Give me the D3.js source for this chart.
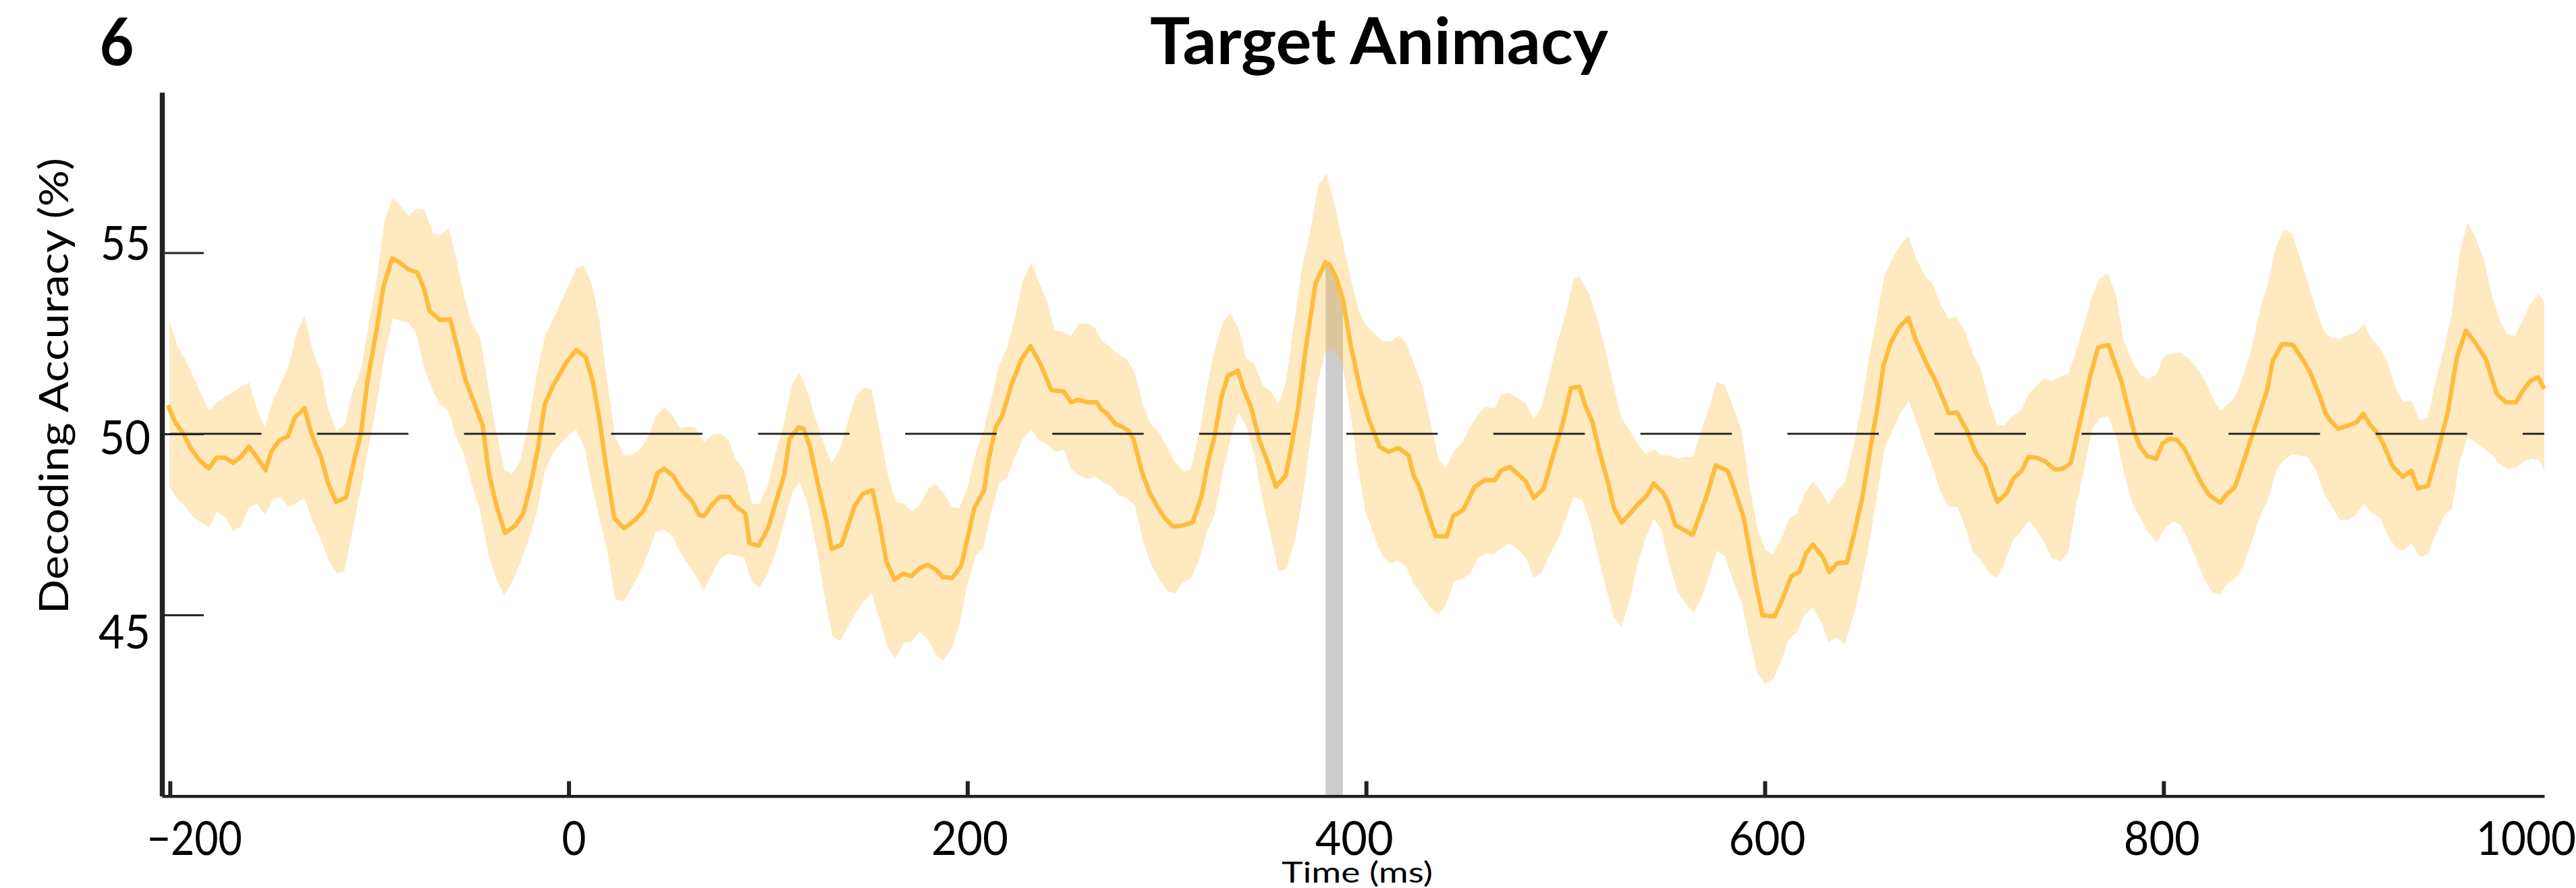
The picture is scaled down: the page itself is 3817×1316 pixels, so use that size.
<!DOCTYPE html>
<html>
<head>
<meta charset="utf-8">
<script src="https://cdn.jsdelivr.net/npm/d3@7"></script>
<style>
  html, body { margin: 0; padding: 0; background: #ffffff; }
  svg { display: block; }
  text { font-family: Lato, "Open Sans", "Noto Sans", sans-serif; fill: #000; }
</style>
</head>
<body>
<svg id="chart" width="3817" height="1316"></svg>
<script>
// ---- data: decoding accuracy (%) over time (ms) ----
const meanSeries = [
  [-201,50.79],[-197.4,50.32],[-193.2,50.0],[-189.9,49.63],[-185.7,49.30],[-180.7,49.04],[-176.6,49.34],[-172.4,49.34],
  [-168.3,49.20],[-164.1,49.38],[-160.4,49.65],[-155.8,49.31],[-152.1,48.99],[-149.1,49.52],[-145.0,49.82],[-140.8,49.93],
  [-137.5,50.44],[-132.5,50.71],[-129.5,50.09],[-126.7,49.68],[-124.2,49.36],[-120.9,48.67],[-116.7,48.12],[-111.7,48.24],
  [-107.6,49.27],[-104.2,50.0],[-100.9,51.46],[-95.9,53.02],[-92.9,54.07],[-88.5,54.85],[-84.3,54.71],[-80.1,54.53],
  [-76.0,54.46],[-72.7,54.03],[-69.7,53.39],[-64.4,53.14],[-59.4,53.16],[-56.0,52.42],[-51.9,51.51],[-46.9,50.78],
  [-43.1,50.23],[-40.2,48.95],[-36.1,47.99],[-31.9,47.26],[-26.9,47.46],[-22.8,47.80],[-19.1,48.58],[-15.3,49.63],
  [-12.0,50.81],[-7.8,51.33],[-1.2,51.97],[3.8,52.31],[8.5,52.12],[12.1,51.46],[15.5,50.37],[18.8,49.09],
  [22.9,47.67],[27.9,47.39],[32.9,47.60],[37.2,47.85],[41.0,48.26],[44.6,48.92],[48.0,49.04],[52.6,48.83],
  [56.6,48.46],[62.1,48.12],[65.4,47.76],[67.9,47.73],[72.1,48.06],[75.9,48.26],[80.4,48.26],[83.7,48.01],
  [88.7,47.80],[90.7,46.98],[95.3,46.91],[100.0,47.39],[103.7,48.08],[108.1,48.86],[110.8,49.86],[115.3,50.18],
  [117.8,50.14],[121.1,49.63],[125.3,48.54],[129.4,47.58],[131.9,46.82],[136.9,46.94],[141.1,47.62],[143.6,48.03],
  [147.7,48.35],[152.4,48.44],[156.0,47.53],[159.4,46.48],[163.5,45.97],[167.7,46.14],[171.8,46.07],[176.0,46.29],
  [180.1,46.39],[184.3,46.25],[187.6,46.05],[192.3,46.02],[196.8,46.34],[200.1,47.12],[203.4,47.94],[208.4,48.44],
  [210.6,49.27],[214.2,50.18],[217.5,50.50],[222.5,51.42],[227.2,52.06],[231.7,52.42],[236.7,51.92],[242.1,51.21],
  [248.3,51.17],[252.1,50.87],[255.8,50.94],[259.9,50.87],[264.9,50.87],[267.4,50.66],[270.0,50.57],[274.2,50.27],
  [277.5,50.20],[280.8,50.09],[283.3,49.86],[287.5,48.95],[291.6,48.35],[294.9,48.03],[299.1,47.67],[303.2,47.44],
  [307.4,47.46],[312.9,47.55],[317.4,48.26],[320.7,49.22],[324.0,49.93],[327.4,51.01],[330.7,51.60],[335.7,51.74],
  [338.5,51.24],[342.3,50.73],[346.5,49.82],[350.3,49.27],[354.8,48.54],[359.8,48.86],[363.1,49.82],[366.1,50.78],
  [369.8,52.38],[374.7,54.16],[379.7,54.74],[381.7,54.67],[384.7,54.35],[388.4,53.71],[392.2,52.47],[397.2,51.19],
  [401.3,50.41],[406.7,49.65],[411.3,49.50],[416.3,49.61],[421.3,49.41],[423.8,48.86],[427.1,48.49],[430.4,47.90],
  [434.9,47.18],[440.4,47.16],[443.7,47.73],[448.7,47.90],[454.5,48.54],[459.5,48.72],[464.5,48.72],[467.8,48.99],
  [472.0,49.09],[476.1,48.90],[480.3,48.67],[484.1,48.23],[489.1,48.49],[493.6,49.36],[498.6,50.27],[502.7,51.26],
  [506.9,51.30],[510.2,50.75],[513.6,50.32],[516.9,49.54],[521.0,48.72],[524.4,47.94],[528.2,47.55],[531.8,47.76],
  [536.0,48.03],[541.0,48.31],[544.3,48.63],[549.3,48.35],[551.8,48.06],[555.1,47.48],[563.8,47.21],[566.8,47.67],
  [571.0,48.31],[575.4,49.13],[581.4,48.98],[585.0,48.43],[589.5,47.67],[592.5,46.75],[595.0,46.02],[598.8,44.99],
  [602.0,44.97],[605.0,44.97],[609.1,45.47],[613.3,46.07],[617.5,46.20],[620.8,46.71],[624.1,46.94],[629.1,46.60],
  [632.4,46.18],[636.2,46.42],[641.2,46.45],[644.9,47.26],[649.0,48.26],[652.9,49.59],[656.5,50.73],[659.5,51.88],
  [663.2,52.52],[667.3,52.93],[672.0,53.20],[675.6,52.61],[681.1,51.94],[685.6,51.46],[689.4,50.96],[692.3,50.57],
  [696.4,50.59],[701.4,50.09],[705.6,49.50],[710.6,49.09],[714.7,48.40],[716.7,48.12],[721.4,48.37],[724.7,48.76],
  [728.8,48.98],[732.2,49.36],[736.3,49.34],[740.5,49.25],[745.6,49.01],[749.7,49.04],[753.5,49.19],[756.4,49.91],
  [760.5,50.91],[763.5,51.65],[767.2,52.38],[769.7,52.42],[772.5,52.45],[775.5,51.97],[778.8,51.46],[782.1,50.73],
  [785.1,50.09],[787.9,49.68],[791.8,49.38],[796.3,49.31],[799.6,49.74],[802.9,49.86],[806.7,49.84],[810.4,49.59],
  [814.6,49.13],[818.7,48.67],[822.9,48.31],[828.4,48.10],[832.0,48.35],[835.7,48.52],[838.7,48.99],[842.0,49.54],
  [845.3,50.09],[848.3,50.59],[852.0,51.21],[854.9,52.03],[859.4,52.47],[862.3,52.47],[864.9,52.45],[870.3,52.01],
  [873.6,51.69],[878.6,51.01],[881.1,50.59],[883.5,50.37],[887.7,50.14],[892.7,50.23],[896.9,50.32],[900.2,50.55],
  [903.5,50.26],[906.8,50.05],[910.2,49.73],[915.1,49.09],[920.1,48.81],[924.3,48.98],[927.6,48.49],[932.6,48.56],
  [936.8,49.36],[942.6,50.59],[947.1,52.10],[951.7,52.85],[956.7,52.49],[961.7,52.06],[967.2,51.10],[971.7,50.87],
  [976.7,50.87],[980.0,51.17],[984.1,51.46],[988.0,51.56],[991.0,51.24]
];

const upperSeries = [
  [-200.3,53.09],[-196.0,52.38],[-192.4,52.06],[-188.2,51.56],[-184.0,51.05],[-180.2,50.64],[-176.6,50.87],[-172.4,51.02],
  [-168.3,51.14],[-164.4,51.30],[-160.4,51.42],[-156.6,50.73],[-152.5,50.18],[-148.3,50.91],[-144.1,51.42],[-140.3,51.90],
  [-136.2,52.84],[-132.5,53.25],[-128.4,52.29],[-124.2,51.69],[-120.9,50.73],[-116.4,50.07],[-112.2,50.26],[-108.4,51.17],
  [-104.2,51.78],[-100.1,53.06],[-95.9,54.39],[-92.3,55.90],[-88.1,56.51],[-84.3,56.29],[-80.1,56.02],[-76.3,56.22],
  [-72.3,56.17],[-68.0,55.53],[-64.4,55.49],[-60.2,55.67],[-56.4,54.85],[-52.4,53.77],[-48.6,53.06],[-44.4,52.63],
  [-40.2,51.24],[-36.4,50.09],[-32.3,49.0],[-28.3,48.90],[-24.5,49.22],[-20.3,50.23],[-16.1,51.60],[-12.0,52.67],
  [-7.8,53.16],[-3.7,53.66],[-0.3,54.07],[3.8,54.55],[7.5,54.64],[11.6,54.14],[15.5,53.11],[19.3,51.46],
  [23.4,49.91],[27.6,49.41],[31.7,49.41],[36.3,49.59],[40.5,50.0],[43.8,50.50],[48.0,50.73],[52.1,50.50],
  [55.9,50.16],[59.6,50.20],[63.4,50.18],[67.9,49.77],[72.1,49.97],[75.9,50.0],[79.9,49.86],[83.7,49.31],
  [87.9,49.0],[92.0,48.06],[95.8,48.06],[99.8,48.58],[103.7,49.45],[107.8,50.23],[112.0,51.35],[115.8,51.69],
  [119.8,51.17],[124.1,50.37],[127.8,49.77],[131.9,49.18],[136.1,49.59],[140.2,50.37],[144.1,51.02],[148.0,51.28],
  [151.9,51.23],[156.0,50.09],[160.2,48.83],[164.3,48.10],[168.0,48.08],[172.2,47.85],[176.0,48.03],[180.1,48.46],
  [184.0,48.61],[188.0,48.37],[192.3,47.97],[195.9,47.94],[200.1,48.52],[204.2,49.45],[208.4,50.14],[212.6,51.10],
  [215.9,51.88],[220.0,52.38],[224.2,53.29],[227.8,54.23],[232.0,54.71],[235.8,54.21],[240.0,53.66],[243.8,52.85],
  [247.8,52.82],[252.0,52.70],[255.8,53.04],[259.6,53.04],[263.8,52.95],[267.7,52.56],[270.0,52.47],[275.8,52.18],
  [280.0,52.06],[284.1,51.67],[288.0,50.82],[291.9,50.27],[296.6,50.0],[300.4,49.59],[304.1,49.22],[308.2,48.98],
  [312.1,49.0],[316.6,50.09],[320.2,51.28],[324.0,52.29],[328.2,53.09],[332.0,53.34],[336.2,52.88],[339.8,52.09],
  [344.0,51.92],[348.1,51.35],[352.3,51.17],[356.0,50.81],[359.8,51.42],[363.9,53.06],[368.1,54.67],[371.7,55.49],
  [376.1,56.91],[377.7,56.97],[380.1,57.18],[383.9,56.40],[387.2,55.58],[391.4,54.48],[396.4,53.39],[399.7,53.02],
  [403.8,52.79],[408.3,52.56],[412.1,52.54],[416.3,52.72],[420.1,52.52],[424.6,51.83],[427.9,51.37],[432.1,50.37],
  [436.3,49.31],[439.9,49.04],[444.2,49.54],[448.2,49.74],[451.7,50.14],[455.9,50.53],[460.0,50.75],[464.2,50.69],
  [467.8,51.08],[472.0,51.14],[476.1,50.99],[480.3,50.81],[484.1,50.39],[488.1,50.78],[491.9,51.60],[496.1,52.56],
  [500.3,53.34],[504.1,54.27],[506.9,54.35],[511.9,53.86],[516.0,53.16],[520.2,52.29],[523.9,51.37],[528.0,50.44],
  [532.2,50.09],[536.5,49.71],[540.2,49.45],[544.3,49.59],[548.1,49.41],[552.3,49.40],[556.4,49.31],[560.1,49.36],
  [563.9,49.36],[568.1,50.09],[572.2,50.73],[575.9,51.44],[580.1,51.34],[584.2,50.73],[588.4,50.09],[592.0,48.67],
  [596.2,47.39],[600.3,46.80],[604.2,46.66],[608.3,47.12],[612.1,47.64],[616.1,47.80],[620.0,48.35],[624.1,48.67],
  [628.3,48.40],[632.1,48.06],[636.2,48.44],[640.2,48.67],[644.4,49.63],[648.2,50.69],[652.0,52.01],[656.2,53.20],
  [659.9,54.35],[664.0,54.85],[668.2,55.23],[672.0,55.46],[676.1,54.83],[680.3,54.37],[684.5,54.12],[688.1,53.57],
  [692.3,53.18],[696.1,53.22],[700.2,52.84],[704.2,52.24],[708.4,51.78],[712.5,50.91],[716.4,50.26],[720.2,50.23],
  [724.4,50.50],[728.5,50.64],[732.5,51.10],[736.3,51.33],[740.5,51.53],[743.9,51.46],[748.1,51.57],[752.2,51.65],
  [755.9,52.24],[759.7,52.93],[763.9,53.77],[768.0,54.30],[772.2,54.41],[776.3,53.80],[780.1,52.56],[784.3,52.01],
  [788.5,51.63],[792.1,51.51],[796.3,51.63],[800.4,52.15],[804.6,52.22],[808.4,52.24],[812.4,52.09],[816.5,51.83],
  [820.4,51.51],[824.5,51.01],[828.4,50.64],[832.5,50.82],[836.2,51.05],[840.3,51.67],[844.5,52.42],[848.6,53.47],
  [852.5,54.16],[856.4,55.17],[860.6,55.63],[864.4,55.53],[868.6,54.85],[872.7,54.12],[876.6,53.43],[880.6,52.82],
  [884.4,52.65],[888.5,52.62],[892.4,52.73],[896.5,52.79],[900.5,53.04],[904.3,52.63],[908.5,52.38],[912.3,51.97],
  [916.3,51.28],[920.5,50.87],[924.3,50.93],[928.4,50.37],[932.6,50.46],[936.8,51.51],[940.9,52.38],[944.7,53.34],
  [948.7,55.03],[952.5,55.84],[956.7,55.40],[960.9,54.76],[964.7,53.84],[968.7,53.13],[972.5,52.74],[976.3,52.70],
  [980.3,53.16],[984.5,53.61],[988.3,53.86],[991.0,53.66]
];

const lowerSeries = [
  [-200.3,48.54],[-196.5,48.22],[-192.4,47.99],[-188.2,47.69],[-184.0,47.55],[-180.2,47.42],[-176.6,47.85],[-172.4,47.71],
  [-168.3,47.30],[-164.4,47.44],[-160.4,47.97],[-156.3,48.06],[-152.1,47.76],[-148.3,48.20],[-144.5,48.26],[-140.3,47.97],
  [-136.2,48.11],[-132.5,48.23],[-128.4,47.58],[-124.5,47.12],[-120.4,46.52],[-116.2,46.14],[-112.6,46.20],[-108.4,47.35],
  [-104.2,48.49],[-100.1,49.73],[-96.3,50.82],[-92.3,52.20],[-88.1,53.18],[-84.3,53.13],[-80.1,53.06],[-76.3,52.74],
  [-72.2,51.78],[-68.0,51.17],[-64.4,50.81],[-60.2,50.64],[-56.4,49.91],[-52.4,49.41],[-48.2,48.54],[-44.4,47.88],
  [-40.2,46.66],[-36.4,46.02],[-32.3,45.52],[-28.3,45.93],[-24.5,46.39],[-20.3,47.03],[-16.1,47.80],[-12.0,48.97],
  [-7.8,49.47],[-3.7,49.74],[0.2,49.98],[3.8,50.11],[8.0,49.63],[11.8,48.54],[15.5,47.67],[19.6,46.71],
  [23.4,45.43],[27.6,45.38],[31.7,45.75],[36.3,46.25],[40.0,46.71],[43.8,47.30],[48.0,47.35],[51.6,47.21],
  [55.8,46.75],[59.6,46.41],[63.8,46.07],[67.9,45.68],[72.1,46.16],[75.9,46.55],[80.0,46.68],[84.0,46.63],
  [87.9,46.61],[92.0,45.90],[95.8,45.75],[99.8,46.14],[103.7,46.71],[107.8,47.48],[112.0,48.35],[115.8,48.67],
  [119.8,48.08],[123.9,46.98],[128.1,45.61],[132.3,44.42],[136.1,44.28],[140.2,44.69],[144.1,45.06],[148.2,45.38],
  [151.9,45.61],[156.0,44.88],[160.2,44.08],[164.0,43.80],[168.0,44.22],[171.8,44.26],[176.0,44.54],[180.1,44.33],
  [184.0,43.92],[188.0,43.73],[192.3,44.10],[195.9,44.71],[200.1,45.88],[204.2,46.63],[207.9,46.84],[211.7,47.80],
  [215.9,48.63],[220.0,48.81],[223.9,49.36],[227.8,49.86],[232.0,50.14],[235.8,49.82],[240.0,49.71],[244.1,49.50],
  [248.3,49.56],[252.1,49.04],[255.8,48.86],[259.9,48.76],[264.1,48.81],[267.9,48.67],[272.0,48.56],[275.8,48.31],
  [280.0,48.22],[284.1,48.01],[288.0,47.07],[291.9,46.43],[296.3,45.98],[300.4,45.66],[304.1,45.59],[308.2,45.90],
  [312.4,46.02],[316.2,46.52],[320.2,47.30],[324.0,47.76],[328.2,48.95],[332.0,49.91],[336.2,50.57],[340.3,50.14],
  [344.0,49.41],[348.1,48.17],[352.3,47.16],[356.1,46.20],[360.1,46.27],[364.3,47.07],[368.1,48.22],[371.7,49.68],
  [375.9,51.46],[379.7,52.31],[383.9,52.31],[388.0,51.97],[392.2,50.55],[396.0,49.04],[399.7,47.85],[404.2,47.16],
  [408.0,46.66],[412.1,46.41],[416.0,46.50],[420.1,46.34],[423.8,45.88],[427.9,45.56],[432.1,45.20],[436.3,45.01],
  [439.9,45.26],[444.2,45.93],[448.2,45.99],[452.4,46.16],[456.2,46.57],[460.4,46.69],[464.2,46.68],[468.2,46.86],
  [472.0,46.98],[476.1,46.80],[480.3,46.57],[484.1,46.02],[488.1,46.19],[491.9,46.63],[495.8,47.03],[499.9,47.62],
  [504.1,48.26],[508.6,48.17],[512.2,47.60],[516.0,46.71],[520.2,45.77],[524.4,44.92],[528.2,44.67],[532.2,45.43],
  [536.3,46.43],[540.2,47.12],[544.3,47.67],[548.1,47.35],[552.1,46.43],[556.3,45.61],[560.1,45.33],[564.3,45.06],
  [568.1,45.47],[572.2,46.11],[575.9,46.78],[580.1,46.61],[584.2,45.93],[588.4,45.33],[592.0,44.42],[596.3,43.39],
  [600.3,43.09],[604.2,43.23],[608.0,43.68],[612.1,44.35],[616.1,44.51],[620.0,45.01],[624.1,45.20],[628.3,44.80],
  [631.9,44.25],[636.2,44.37],[640.2,44.19],[644.4,44.97],[648.2,45.84],[651.9,46.84],[655.7,48.12],[659.9,49.54],
  [664.0,50.09],[668.2,50.59],[672.3,50.91],[676.1,50.32],[680.1,49.68],[684.1,49.09],[688.1,48.40],[692.3,47.97],
  [696.4,47.99],[700.2,47.48],[704.4,46.75],[708.4,46.51],[712.5,46.16],[716.4,46.02],[720.2,46.43],[724.2,47.03],
  [728.0,47.27],[732.2,47.60],[736.3,47.35],[740.5,46.98],[743.9,46.57],[748.1,46.48],[752.2,46.72],[756.4,48.08],
  [760.2,49.04],[764.2,50.14],[768.3,50.44],[772.5,50.48],[776.3,49.91],[780.5,48.86],[784.3,48.08],[788.5,47.67],
  [792.6,47.26],[796.6,47.0],[800.4,47.37],[804.6,47.58],[808.4,47.49],[812.4,47.07],[816.5,46.52],[820.4,45.97],
  [824.5,45.63],[828.4,45.56],[832.3,45.88],[836.2,46.02],[840.3,46.39],[844.5,47.07],[848.3,47.71],[852.5,48.19],
  [856.4,48.98],[860.3,49.27],[864.4,49.43],[872.4,49.36],[876.4,48.99],[880.6,48.35],[884.4,47.99],[888.5,47.62],
  [892.4,47.62],[896.4,47.76],[900.5,48.08],[904.3,47.82],[908.5,47.69],[912.6,47.18],[916.8,46.84],[920.5,46.78],
  [924.3,47.0],[928.4,46.61],[932.6,46.66],[936.8,47.26],[940.9,47.76],[944.7,47.94],[948.4,49.19],[952.6,49.93],
  [956.7,49.74],[960.9,49.59],[964.7,49.43],[968.7,49.16],[972.5,49.04],[976.3,49.06],[980.5,49.22],[984.6,49.31],
  [988.3,49.28],[991.0,48.99]
];

const chanceLevel = 50;
const chanceSpan = [-200, 991];
const significantWindow = [379.7, 388.4];   // time range (ms) shaded under the mean curve
const xDomain = [-204, 991];
const yDomain = [40, 59.43];
const xTickValues = [-200, 0, 200, 400, 600, 800, 1000];
const yTickValues = [45, 50, 55];

const panelLabel = "6";
const titleText = "Target Animacy";
const xLabelText = "Time (ms)";
const yLabelText = "Decoding Accuracy (%)";

// ---- layout ----
const svg = d3.select("#chart");
const plot = { left: 240, right: 3770, top: 136.7, bottom: 1179.7 };

const x = d3.scaleLinear().domain(xDomain).range([plot.left, plot.right]);
const y = d3.scaleLinear().domain(yDomain).range([plot.bottom, plot.top]);

const colors = {
  line: "#FFBC3C",
  band: "#FDBA3A",
  sig: "#CCCCCC",
  ink: "#222222"
};

// significance shading: area from the floor up to the mean curve
const sigPts = meanSeries.filter(d => d[0] >= significantWindow[0] && d[0] <= significantWindow[1]);
svg.append("path")
  .attr("d", d3.area().x(d => x(d[0])).y0(y(yDomain[0])).y1(d => y(d[1]))(sigPts))
  .attr("fill", colors.sig);

// confidence band: upper edge forward, lower edge back
const bandPts = upperSeries.concat(lowerSeries.slice().reverse());
svg.append("path")
  .attr("d", d3.line().x(d => x(d[0])).y(d => y(d[1]))(bandPts) + "Z")
  .attr("fill", colors.band)
  .attr("fill-opacity", 0.32);

// mean decoding accuracy
svg.append("path")
  .attr("d", d3.line().x(d => x(d[0])).y(d => y(d[1]))(meanSeries))
  .attr("fill", "none")
  .attr("stroke", colors.line)
  .attr("stroke-width", 6.5)
  .attr("stroke-linejoin", "round");

// chance level (dashed)
const dashLen = x(-200 + 45.87) - x(-200);
const gapLen = x(-200 + 73.76) - x(-200) - dashLen;
svg.append("line")
  .attr("x1", x(chanceSpan[0])).attr("x2", x(chanceSpan[1]))
  .attr("y1", y(chanceLevel)).attr("y2", y(chanceLevel))
  .attr("stroke", "#1a1a1a")
  .attr("stroke-width", 2.8)
  .attr("stroke-dasharray", `${dashLen} ${gapLen}`);

const fontFamily = "Lato, 'Open Sans', sans-serif";

// ---- x axis ----
const xLabelNudge = { "-200": 36, "0": 7.5, "200": 3, "400": -18, "600": 3, "800": -3, "1000": -54 };
const xLabelWidth = { "-200": 141, "0": 36, "200": 114, "400": 116, "600": 114, "800": 113, "1000": 148 };
const xAxisG = svg.append("g")
  .attr("transform", `translate(0,${plot.bottom})`)
  .call(d3.axisBottom(x).tickValues(xTickValues).tickSizeInner(-22).tickSizeOuter(0).tickPadding(0).tickFormat(d3.format("d")));
xAxisG.select(".domain").attr("stroke", colors.ink).attr("stroke-width", 4.5);
xAxisG.selectAll(".tick line")
  .attr("stroke", colors.ink).attr("stroke-width", 6)
  .attr("opacity", d => (d > xDomain[1] ? 0 : 1));
xAxisG.selectAll(".tick text")
  .attr("font-family", fontFamily)
  .attr("font-size", 70)
  .attr("fill", "#000")
  .attr("y", 87.5)
  .attr("dy", 0)
  .attr("x", d => xLabelNudge[String(d)])
  .attr("text-anchor", "middle")
  .attr("textLength", d => xLabelWidth[String(d)])
  .attr("lengthAdjust", "spacingAndGlyphs");

// ---- y axis ----
const yLabelWidth = { "45": 77, "50": 76, "55": 74 };
const yAxisG = svg.append("g")
  .attr("transform", `translate(${plot.left},0)`)
  .call(d3.axisLeft(y).tickValues(yTickValues).tickSizeInner(-62).tickSizeOuter(0).tickPadding(0).tickFormat(d3.format("d")));
yAxisG.select(".domain").attr("stroke", colors.ink).attr("stroke-width", 7.5);
yAxisG.selectAll(".tick line").attr("stroke", colors.ink).attr("stroke-width", 3);
yAxisG.selectAll(".tick text")
  .attr("font-family", fontFamily)
  .attr("font-size", 70)
  .attr("fill", "#000")
  .attr("x", -17)
  .attr("dy", 0)
  .attr("y", d => 29.5 + (chanceLevel - d) * 3.9)
  .attr("text-anchor", "end")
  .attr("textLength", d => yLabelWidth[String(d)])
  .attr("lengthAdjust", "spacingAndGlyphs");

// ---- titles ----
svg.append("text")
  .attr("x", 147.6).attr("y", 97)
  .attr("font-family", fontFamily).attr("font-weight", 700).attr("font-size", 97)
  .attr("textLength", 51).attr("lengthAdjust", "spacingAndGlyphs")
  .text(panelLabel);

svg.append("text")
  .attr("x", 2043.5).attr("y", 95)
  .attr("text-anchor", "middle")
  .attr("font-family", fontFamily).attr("font-weight", 700).attr("font-size", 95)
  .attr("textLength", 679).attr("lengthAdjust", "spacingAndGlyphs")
  .text(titleText);

svg.append("text")
  .attr("transform", "translate(101,572) rotate(-90)")
  .attr("text-anchor", "middle")
  .attr("font-family", fontFamily).attr("font-size", 60)
  .attr("textLength", 676).attr("lengthAdjust", "spacingAndGlyphs")
  .text(yLabelText);

svg.append("text")
  .attr("x", 2011).attr("y", 1308)
  .attr("text-anchor", "middle")
  .attr("font-family", fontFamily).attr("font-size", 42)
  .attr("textLength", 224).attr("lengthAdjust", "spacingAndGlyphs")
  .text(xLabelText);
</script>
</body>
</html>
